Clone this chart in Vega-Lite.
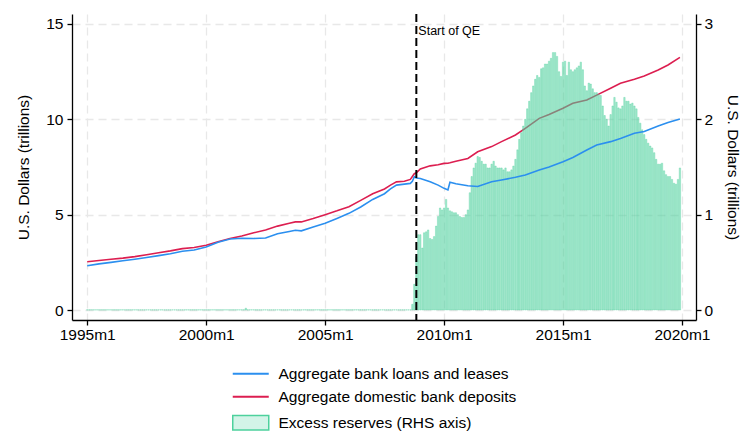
{
  "$schema": "https://vega.github.io/schema/vega-lite/v6.json",
  "width": 624,
  "height": 306,
  "autosize": {"type": "none"},
  "padding": {"left": 72, "top": 14, "right": 56, "bottom": 115},
  "background": "white",
  "config": {
    "font": "Liberation Sans",
    "view": {"stroke": null},
    "axis": {
      "domainColor": "black", "domainWidth": 1.3, "tickColor": "black", "tickWidth": 1.3, "tickSize": 5,
      "labelFont": "Liberation Sans", "labelFontSize": 15.5, "labelColor": "black",
      "titleFont": "Liberation Sans", "titleFontSize": 15.5, "titleFontWeight": "normal", "titleColor": "black",
      "gridColor": "#e8e8e8", "gridDash": [8, 5], "gridWidth": 1.3
    },
    "legend": {
      "title": null, "orient": "none", "legendX": 171, "legendY": 352, "direction": "vertical",
      "labelFont": "Liberation Sans", "labelFontSize": 15.5, "labelColor": "black", "labelLimit": 500,
      "symbolSize": 324, "labelOffset": 20, "rowPadding": 6
    }
  },
  "datasets": {
    "lines": [
      {"date": "1995-01-01", "loans": 2.32, "deposits": 2.53},
      {"date": "1995-07-01", "loans": 2.42, "deposits": 2.60},
      {"date": "1996-01-01", "loans": 2.50, "deposits": 2.66},
      {"date": "1996-07-01", "loans": 2.58, "deposits": 2.72},
      {"date": "1997-01-01", "loans": 2.66, "deposits": 2.80},
      {"date": "1997-07-01", "loans": 2.75, "deposits": 2.90},
      {"date": "1998-01-01", "loans": 2.85, "deposits": 3.00},
      {"date": "1998-07-01", "loans": 2.95, "deposits": 3.10},
      {"date": "1999-01-01", "loans": 3.08, "deposits": 3.22},
      {"date": "1999-07-01", "loans": 3.15, "deposits": 3.28},
      {"date": "2000-01-01", "loans": 3.30, "deposits": 3.40},
      {"date": "2000-07-01", "loans": 3.55, "deposits": 3.58},
      {"date": "2001-01-01", "loans": 3.72, "deposits": 3.75},
      {"date": "2001-07-01", "loans": 3.76, "deposits": 3.88},
      {"date": "2002-01-01", "loans": 3.75, "deposits": 4.05},
      {"date": "2002-07-01", "loans": 3.78, "deposits": 4.20},
      {"date": "2003-01-01", "loans": 4.00, "deposits": 4.40},
      {"date": "2003-07-01", "loans": 4.12, "deposits": 4.55},
      {"date": "2003-10-01", "loans": 4.18, "deposits": 4.62},
      {"date": "2004-01-01", "loans": 4.15, "deposits": 4.62},
      {"date": "2004-07-01", "loans": 4.35, "deposits": 4.80},
      {"date": "2005-01-01", "loans": 4.55, "deposits": 5.00},
      {"date": "2005-07-01", "loans": 4.80, "deposits": 5.20},
      {"date": "2006-01-01", "loans": 5.07, "deposits": 5.42},
      {"date": "2006-07-01", "loans": 5.40, "deposits": 5.75},
      {"date": "2007-01-01", "loans": 5.80, "deposits": 6.10},
      {"date": "2007-07-01", "loans": 6.10, "deposits": 6.35},
      {"date": "2007-10-01", "loans": 6.35, "deposits": 6.55},
      {"date": "2008-01-01", "loans": 6.55, "deposits": 6.72},
      {"date": "2008-05-01", "loans": 6.60, "deposits": 6.75},
      {"date": "2008-08-01", "loans": 6.64, "deposits": 6.85},
      {"date": "2008-09-01", "loans": 6.75, "deposits": 7.00},
      {"date": "2008-10-01", "loans": 6.99, "deposits": 7.15},
      {"date": "2008-11-01", "loans": 6.92, "deposits": 7.20},
      {"date": "2009-01-01", "loans": 6.90, "deposits": 7.40},
      {"date": "2009-06-01", "loans": 6.73, "deposits": 7.56},
      {"date": "2009-10-01", "loans": 6.55, "deposits": 7.62},
      {"date": "2010-01-01", "loans": 6.38, "deposits": 7.69},
      {"date": "2010-03-01", "loans": 6.30, "deposits": 7.70},
      {"date": "2010-04-01", "loans": 6.70, "deposits": 7.72},
      {"date": "2010-07-01", "loans": 6.62, "deposits": 7.80},
      {"date": "2011-01-01", "loans": 6.52, "deposits": 7.95},
      {"date": "2011-06-01", "loans": 6.48, "deposits": 8.30},
      {"date": "2012-01-01", "loans": 6.73, "deposits": 8.57},
      {"date": "2012-06-01", "loans": 6.82, "deposits": 8.83},
      {"date": "2013-01-01", "loans": 6.96, "deposits": 9.18},
      {"date": "2013-06-01", "loans": 7.08, "deposits": 9.53},
      {"date": "2014-01-01", "loans": 7.34, "deposits": 10.05},
      {"date": "2014-06-01", "loans": 7.50, "deposits": 10.25},
      {"date": "2015-01-01", "loans": 7.78, "deposits": 10.58},
      {"date": "2015-06-01", "loans": 8.00, "deposits": 10.84},
      {"date": "2016-01-01", "loans": 8.39, "deposits": 11.01},
      {"date": "2016-06-01", "loans": 8.65, "deposits": 11.27},
      {"date": "2017-01-01", "loans": 8.83, "deposits": 11.63},
      {"date": "2017-06-01", "loans": 9.00, "deposits": 11.89},
      {"date": "2018-01-01", "loans": 9.27, "deposits": 12.10},
      {"date": "2018-06-01", "loans": 9.36, "deposits": 12.27},
      {"date": "2019-01-01", "loans": 9.65, "deposits": 12.59},
      {"date": "2019-06-01", "loans": 9.83, "deposits": 12.85},
      {"date": "2019-12-01", "loans": 10.02, "deposits": 13.25}
    ],
    "reserves": [
      {"date": "1995-01-01", "r": 0.0015}, {"date": "1995-02-01", "r": 0.0015}, {"date": "1995-03-01", "r": 0.0015}, {"date": "1995-04-01", "r": 0.0015}, {"date": "1995-05-01", "r": 0.0015}, {"date": "1995-06-01", "r": 0.0015}, {"date": "1995-07-01", "r": 0.0015}, {"date": "1995-08-01", "r": 0.0015}, {"date": "1995-09-01", "r": 0.0015}, {"date": "1995-10-01", "r": 0.0015}, {"date": "1995-11-01", "r": 0.0015}, {"date": "1995-12-01", "r": 0.0015},
      {"date": "1996-01-01", "r": 0.0015}, {"date": "1996-02-01", "r": 0.0015}, {"date": "1996-03-01", "r": 0.0015}, {"date": "1996-04-01", "r": 0.0015}, {"date": "1996-05-01", "r": 0.0015}, {"date": "1996-06-01", "r": 0.0015}, {"date": "1996-07-01", "r": 0.0015}, {"date": "1996-08-01", "r": 0.0015}, {"date": "1996-09-01", "r": 0.0015}, {"date": "1996-10-01", "r": 0.0015}, {"date": "1996-11-01", "r": 0.0015}, {"date": "1996-12-01", "r": 0.0015},
      {"date": "1997-01-01", "r": 0.0015}, {"date": "1997-02-01", "r": 0.0015}, {"date": "1997-03-01", "r": 0.0015}, {"date": "1997-04-01", "r": 0.0015}, {"date": "1997-05-01", "r": 0.0015}, {"date": "1997-06-01", "r": 0.0015}, {"date": "1997-07-01", "r": 0.0015}, {"date": "1997-08-01", "r": 0.0015}, {"date": "1997-09-01", "r": 0.0015}, {"date": "1997-10-01", "r": 0.0015}, {"date": "1997-11-01", "r": 0.0015}, {"date": "1997-12-01", "r": 0.0015},
      {"date": "1998-01-01", "r": 0.0015}, {"date": "1998-02-01", "r": 0.0015}, {"date": "1998-03-01", "r": 0.0015}, {"date": "1998-04-01", "r": 0.0015}, {"date": "1998-05-01", "r": 0.0015}, {"date": "1998-06-01", "r": 0.0015}, {"date": "1998-07-01", "r": 0.0015}, {"date": "1998-08-01", "r": 0.0015}, {"date": "1998-09-01", "r": 0.0015}, {"date": "1998-10-01", "r": 0.0015}, {"date": "1998-11-01", "r": 0.0015}, {"date": "1998-12-01", "r": 0.0015},
      {"date": "1999-01-01", "r": 0.0015}, {"date": "1999-02-01", "r": 0.0015}, {"date": "1999-03-01", "r": 0.0015}, {"date": "1999-04-01", "r": 0.0015}, {"date": "1999-05-01", "r": 0.0015}, {"date": "1999-06-01", "r": 0.0015}, {"date": "1999-07-01", "r": 0.0015}, {"date": "1999-08-01", "r": 0.0015}, {"date": "1999-09-01", "r": 0.0015}, {"date": "1999-10-01", "r": 0.0015}, {"date": "1999-11-01", "r": 0.0015}, {"date": "1999-12-01", "r": 0.0015},
      {"date": "2000-01-01", "r": 0.0015}, {"date": "2000-02-01", "r": 0.0015}, {"date": "2000-03-01", "r": 0.0015}, {"date": "2000-04-01", "r": 0.0015}, {"date": "2000-05-01", "r": 0.0015}, {"date": "2000-06-01", "r": 0.0015}, {"date": "2000-07-01", "r": 0.0015}, {"date": "2000-08-01", "r": 0.0015}, {"date": "2000-09-01", "r": 0.0015}, {"date": "2000-10-01", "r": 0.0015}, {"date": "2000-11-01", "r": 0.0015}, {"date": "2000-12-01", "r": 0.0015},
      {"date": "2001-01-01", "r": 0.0015}, {"date": "2001-02-01", "r": 0.0015}, {"date": "2001-03-01", "r": 0.0015}, {"date": "2001-04-01", "r": 0.0015}, {"date": "2001-05-01", "r": 0.0015}, {"date": "2001-06-01", "r": 0.0015}, {"date": "2001-07-01", "r": 0.0015}, {"date": "2001-08-01", "r": 0.0015}, {"date": "2001-09-01", "r": 0.019}, {"date": "2001-10-01", "r": 0.0015}, {"date": "2001-11-01", "r": 0.0015}, {"date": "2001-12-01", "r": 0.0015},
      {"date": "2002-01-01", "r": 0.0015}, {"date": "2002-02-01", "r": 0.0015}, {"date": "2002-03-01", "r": 0.0015}, {"date": "2002-04-01", "r": 0.0015}, {"date": "2002-05-01", "r": 0.0015}, {"date": "2002-06-01", "r": 0.0015}, {"date": "2002-07-01", "r": 0.0015}, {"date": "2002-08-01", "r": 0.0015}, {"date": "2002-09-01", "r": 0.0015}, {"date": "2002-10-01", "r": 0.0015}, {"date": "2002-11-01", "r": 0.0015}, {"date": "2002-12-01", "r": 0.0015},
      {"date": "2003-01-01", "r": 0.0015}, {"date": "2003-02-01", "r": 0.0015}, {"date": "2003-03-01", "r": 0.0015}, {"date": "2003-04-01", "r": 0.0015}, {"date": "2003-05-01", "r": 0.0015}, {"date": "2003-06-01", "r": 0.0015}, {"date": "2003-07-01", "r": 0.0015}, {"date": "2003-08-01", "r": 0.0015}, {"date": "2003-09-01", "r": 0.0015}, {"date": "2003-10-01", "r": 0.0015}, {"date": "2003-11-01", "r": 0.0015}, {"date": "2003-12-01", "r": 0.0015},
      {"date": "2004-01-01", "r": 0.0015}, {"date": "2004-02-01", "r": 0.0015}, {"date": "2004-03-01", "r": 0.0015}, {"date": "2004-04-01", "r": 0.0015}, {"date": "2004-05-01", "r": 0.0015}, {"date": "2004-06-01", "r": 0.0015}, {"date": "2004-07-01", "r": 0.0015}, {"date": "2004-08-01", "r": 0.0015}, {"date": "2004-09-01", "r": 0.0015}, {"date": "2004-10-01", "r": 0.0015}, {"date": "2004-11-01", "r": 0.0015}, {"date": "2004-12-01", "r": 0.0015},
      {"date": "2005-01-01", "r": 0.0015}, {"date": "2005-02-01", "r": 0.0015}, {"date": "2005-03-01", "r": 0.0015}, {"date": "2005-04-01", "r": 0.0015}, {"date": "2005-05-01", "r": 0.0015}, {"date": "2005-06-01", "r": 0.0015}, {"date": "2005-07-01", "r": 0.0015}, {"date": "2005-08-01", "r": 0.0015}, {"date": "2005-09-01", "r": 0.0015}, {"date": "2005-10-01", "r": 0.0015}, {"date": "2005-11-01", "r": 0.0015}, {"date": "2005-12-01", "r": 0.0015},
      {"date": "2006-01-01", "r": 0.0015}, {"date": "2006-02-01", "r": 0.0015}, {"date": "2006-03-01", "r": 0.0015}, {"date": "2006-04-01", "r": 0.0015}, {"date": "2006-05-01", "r": 0.0015}, {"date": "2006-06-01", "r": 0.0015}, {"date": "2006-07-01", "r": 0.0015}, {"date": "2006-08-01", "r": 0.0015}, {"date": "2006-09-01", "r": 0.0015}, {"date": "2006-10-01", "r": 0.0015}, {"date": "2006-11-01", "r": 0.0015}, {"date": "2006-12-01", "r": 0.0015},
      {"date": "2007-01-01", "r": 0.0015}, {"date": "2007-02-01", "r": 0.0015}, {"date": "2007-03-01", "r": 0.0015}, {"date": "2007-04-01", "r": 0.0015}, {"date": "2007-05-01", "r": 0.0015}, {"date": "2007-06-01", "r": 0.0015}, {"date": "2007-07-01", "r": 0.0015}, {"date": "2007-08-01", "r": 0.0015}, {"date": "2007-09-01", "r": 0.0015}, {"date": "2007-10-01", "r": 0.0015}, {"date": "2007-11-01", "r": 0.0015}, {"date": "2007-12-01", "r": 0.0015},
      {"date": "2008-01-01", "r": 0.0015}, {"date": "2008-02-01", "r": 0.0015}, {"date": "2008-03-01", "r": 0.0015}, {"date": "2008-04-01", "r": 0.0015}, {"date": "2008-05-01", "r": 0.0015}, {"date": "2008-06-01", "r": 0.0015}, {"date": "2008-07-01", "r": 0.0015}, {"date": "2008-08-01", "r": 0.0015},
      {"date": "2008-09-01", "r": 0.06}, {"date": "2008-10-01", "r": 0.27}, {"date": "2008-11-01", "r": 0.56}, {"date": "2008-12-01", "r": 0.79},
      {"date": "2009-01-01", "r": 0.79}, {"date": "2009-02-01", "r": 0.65}, {"date": "2009-03-01", "r": 0.81}, {"date": "2009-04-01", "r": 0.82}, {"date": "2009-05-01", "r": 0.84}, {"date": "2009-06-01", "r": 0.75}, {"date": "2009-07-01", "r": 0.74}, {"date": "2009-08-01", "r": 0.77}, {"date": "2009-09-01", "r": 0.88}, {"date": "2009-10-01", "r": 0.98}, {"date": "2009-11-01", "r": 1.07}, {"date": "2009-12-01", "r": 1.05},
      {"date": "2010-01-01", "r": 1.07}, {"date": "2010-02-01", "r": 1.16}, {"date": "2010-03-01", "r": 1.07}, {"date": "2010-04-01", "r": 1.04}, {"date": "2010-05-01", "r": 1.03}, {"date": "2010-06-01", "r": 1.02}, {"date": "2010-07-01", "r": 1.02}, {"date": "2010-08-01", "r": 1.00}, {"date": "2010-09-01", "r": 0.98}, {"date": "2010-10-01", "r": 0.97}, {"date": "2010-11-01", "r": 0.97}, {"date": "2010-12-01", "r": 1.00},
      {"date": "2011-01-01", "r": 1.05}, {"date": "2011-02-01", "r": 1.23}, {"date": "2011-03-01", "r": 1.40}, {"date": "2011-04-01", "r": 1.49}, {"date": "2011-05-01", "r": 1.54}, {"date": "2011-06-01", "r": 1.61}, {"date": "2011-07-01", "r": 1.60}, {"date": "2011-08-01", "r": 1.56}, {"date": "2011-09-01", "r": 1.53}, {"date": "2011-10-01", "r": 1.53}, {"date": "2011-11-01", "r": 1.49}, {"date": "2011-12-01", "r": 1.49},
      {"date": "2012-01-01", "r": 1.53}, {"date": "2012-02-01", "r": 1.56}, {"date": "2012-03-01", "r": 1.51}, {"date": "2012-04-01", "r": 1.49}, {"date": "2012-05-01", "r": 1.49}, {"date": "2012-06-01", "r": 1.49}, {"date": "2012-07-01", "r": 1.47}, {"date": "2012-08-01", "r": 1.49}, {"date": "2012-09-01", "r": 1.45}, {"date": "2012-10-01", "r": 1.45}, {"date": "2012-11-01", "r": 1.47}, {"date": "2012-12-01", "r": 1.51},
      {"date": "2013-01-01", "r": 1.58}, {"date": "2013-02-01", "r": 1.68}, {"date": "2013-03-01", "r": 1.79}, {"date": "2013-04-01", "r": 1.86}, {"date": "2013-05-01", "r": 1.93}, {"date": "2013-06-01", "r": 2.00}, {"date": "2013-07-01", "r": 2.11}, {"date": "2013-08-01", "r": 2.19}, {"date": "2013-09-01", "r": 2.28}, {"date": "2013-10-01", "r": 2.35}, {"date": "2013-11-01", "r": 2.42}, {"date": "2013-12-01", "r": 2.46},
      {"date": "2014-01-01", "r": 2.44}, {"date": "2014-02-01", "r": 2.53}, {"date": "2014-03-01", "r": 2.54}, {"date": "2014-04-01", "r": 2.58}, {"date": "2014-05-01", "r": 2.58}, {"date": "2014-06-01", "r": 2.61}, {"date": "2014-07-01", "r": 2.64}, {"date": "2014-08-01", "r": 2.70}, {"date": "2014-09-01", "r": 2.70}, {"date": "2014-10-01", "r": 2.66}, {"date": "2014-11-01", "r": 2.50}, {"date": "2014-12-01", "r": 2.45},
      {"date": "2015-01-01", "r": 2.60}, {"date": "2015-02-01", "r": 2.61}, {"date": "2015-03-01", "r": 2.46}, {"date": "2015-04-01", "r": 2.60}, {"date": "2015-05-01", "r": 2.52}, {"date": "2015-06-01", "r": 2.50}, {"date": "2015-07-01", "r": 2.52}, {"date": "2015-08-01", "r": 2.54}, {"date": "2015-09-01", "r": 2.56}, {"date": "2015-10-01", "r": 2.60}, {"date": "2015-11-01", "r": 2.52}, {"date": "2015-12-01", "r": 2.35},
      {"date": "2016-01-01", "r": 2.30}, {"date": "2016-02-01", "r": 2.38}, {"date": "2016-03-01", "r": 2.37}, {"date": "2016-04-01", "r": 2.32}, {"date": "2016-05-01", "r": 2.28}, {"date": "2016-06-01", "r": 2.28}, {"date": "2016-07-01", "r": 2.26}, {"date": "2016-08-01", "r": 2.25}, {"date": "2016-09-01", "r": 2.14}, {"date": "2016-10-01", "r": 2.04}, {"date": "2016-11-01", "r": 2.00}, {"date": "2016-12-01", "r": 1.93},
      {"date": "2017-01-01", "r": 2.05}, {"date": "2017-02-01", "r": 2.14}, {"date": "2017-03-01", "r": 2.23}, {"date": "2017-04-01", "r": 2.18}, {"date": "2017-05-01", "r": 2.12}, {"date": "2017-06-01", "r": 2.11}, {"date": "2017-07-01", "r": 2.14}, {"date": "2017-08-01", "r": 2.23}, {"date": "2017-09-01", "r": 2.19}, {"date": "2017-10-01", "r": 2.19}, {"date": "2017-11-01", "r": 2.16}, {"date": "2017-12-01", "r": 2.17},
      {"date": "2018-01-01", "r": 2.14}, {"date": "2018-02-01", "r": 2.11}, {"date": "2018-03-01", "r": 2.02}, {"date": "2018-04-01", "r": 1.96}, {"date": "2018-05-01", "r": 1.89}, {"date": "2018-06-01", "r": 1.84}, {"date": "2018-07-01", "r": 1.79}, {"date": "2018-08-01", "r": 1.75}, {"date": "2018-09-01", "r": 1.72}, {"date": "2018-10-01", "r": 1.70}, {"date": "2018-11-01", "r": 1.65}, {"date": "2018-12-01", "r": 1.58},
      {"date": "2019-01-01", "r": 1.53}, {"date": "2019-02-01", "r": 1.53}, {"date": "2019-03-01", "r": 1.54}, {"date": "2019-04-01", "r": 1.46}, {"date": "2019-05-01", "r": 1.42}, {"date": "2019-06-01", "r": 1.40}, {"date": "2019-07-01", "r": 1.40}, {"date": "2019-08-01", "r": 1.37}, {"date": "2019-09-01", "r": 1.33}, {"date": "2019-10-01", "r": 1.32}, {"date": "2019-11-01", "r": 1.37}, {"date": "2019-12-01", "r": 1.49}
    ],
    "events": [{"date": "2008-11-01", "label": "Start of QE"}]
  },
  "encoding": {
    "x": {
      "field": "date", "type": "temporal",
      "scale": {"type": "utc", "domain": [{"year": 1994, "month": 7, "date": 28, "utc": true}, {"year": 2020, "month": 5, "date": 19, "utc": true}]},
      "axis": {
        "title": null, "grid": true, "labelPadding": 2, "labelFlush": false, "labelOverlap": false,
        "values": [
          {"year": 1995, "month": 1, "date": 1, "utc": true},
          {"year": 2000, "month": 1, "date": 1, "utc": true},
          {"year": 2005, "month": 1, "date": 1, "utc": true},
          {"year": 2010, "month": 1, "date": 1, "utc": true},
          {"year": 2015, "month": 1, "date": 1, "utc": true},
          {"year": 2020, "month": 1, "date": 1, "utc": true}
        ],
        "labelExpr": "utcyear(datum.value) + 'm' + (utcmonth(datum.value) + 1)"
      }
    }
  },
  "layer": [
    {
      "data": {"name": "lines"},
      "mark": {"type": "line", "strokeWidth": 1.6},
      "encoding": {
        "y": {"field": "deposits", "type": "quantitative", "scale": {"domain": [-0.524, 15.524], "nice": false, "zero": false}, "axis": null},
        "color": {
          "datum": "Aggregate domestic bank deposits", "type": "nominal",
          "scale": {"domain": ["Aggregate bank loans and leases", "Aggregate domestic bank deposits", "Excess reserves (RHS axis)"], "range": ["#2b8fef", "#dc1e50", "#4dd19d"]},
          "legend": {
            "encode": {
              "symbols": {
                "update": {
                  "shape": {"signal": "datum.value == 'Excess reserves (RHS axis)' ? 'M-2,-0.8H2V0.8H-2Z' : 'M-2,0H2'"},
                  "fill": {"signal": "datum.value == 'Excess reserves (RHS axis)' ? '#d3f4e8' : 'transparent'"},
                  "stroke": {"signal": "datum.value == 'Excess reserves (RHS axis)' ? '#a5e6cf' : (datum.value == 'Aggregate bank loans and leases' ? '#2b8fef' : '#dc1e50')"},
                  "strokeWidth": {"signal": "datum.value == 'Excess reserves (RHS axis)' ? 1.5 : 2"},
                  "opacity": {"value": 1},
                  "fillOpacity": {"value": 1},
                  "strokeOpacity": {"value": 1}
                }
              }
            }
          }
        }
      }
    },
    {
      "data": {"name": "reserves"},
      "mark": {"type": "bar", "filled": false, "fill": "#4dd19d", "width": 1.4, "fillOpacity": 0.5, "strokeWidth": 0.7, "strokeOpacity": 0.5},
      "encoding": {
        "y": {
          "field": "r", "type": "quantitative",
          "scale": {"domain": [-0.1048, 3.1048], "nice": false, "zero": false},
          "axis": {"orient": "right", "values": [0, 1, 2, 3], "grid": false, "title": "U.S. Dollars (trillions)", "labelPadding": 3, "titlePadding": 12}
        },
        "color": {
          "datum": "Excess reserves (RHS axis)", "type": "nominal",
          "legend": {
            "encode": {
              "symbols": {
                "update": {
                  "shape": {"signal": "datum.value == 'Excess reserves (RHS axis)' ? 'M-2,-0.8H2V0.8H-2Z' : 'M-2,0H2'"},
                  "fill": {"signal": "datum.value == 'Excess reserves (RHS axis)' ? '#d3f4e8' : 'transparent'"},
                  "stroke": {"signal": "datum.value == 'Excess reserves (RHS axis)' ? '#a5e6cf' : (datum.value == 'Aggregate bank loans and leases' ? '#2b8fef' : '#dc1e50')"},
                  "strokeWidth": {"signal": "datum.value == 'Excess reserves (RHS axis)' ? 1.5 : 2"},
                  "opacity": {"value": 1},
                  "fillOpacity": {"value": 1},
                  "strokeOpacity": {"value": 1}
                }
              }
            }
          }
        }
      }
    },
    {
      "data": {"name": "lines"},
      "mark": {"type": "line", "strokeWidth": 1.6},
      "encoding": {
        "y": {
          "field": "loans", "type": "quantitative",
          "scale": {"domain": [-0.524, 15.524], "nice": false, "zero": false},
          "axis": {"orient": "left", "values": [0, 5, 10, 15], "grid": true, "title": "U.S. Dollars (trillions)", "labelPadding": 4, "titlePadding": 14}
        },
        "color": {
          "datum": "Aggregate bank loans and leases", "type": "nominal",
          "legend": {
            "encode": {
              "symbols": {
                "update": {
                  "shape": {"signal": "datum.value == 'Excess reserves (RHS axis)' ? 'M-2,-0.8H2V0.8H-2Z' : 'M-2,0H2'"},
                  "fill": {"signal": "datum.value == 'Excess reserves (RHS axis)' ? '#d3f4e8' : 'transparent'"},
                  "stroke": {"signal": "datum.value == 'Excess reserves (RHS axis)' ? '#a5e6cf' : (datum.value == 'Aggregate bank loans and leases' ? '#2b8fef' : '#dc1e50')"},
                  "strokeWidth": {"signal": "datum.value == 'Excess reserves (RHS axis)' ? 1.5 : 2"},
                  "opacity": {"value": 1},
                  "fillOpacity": {"value": 1},
                  "strokeOpacity": {"value": 1}
                }
              }
            }
          }
        }
      }
    },
    {
      "data": {"name": "events"},
      "mark": {"type": "rule", "strokeDash": [8, 4], "strokeWidth": 2, "color": "black"},
      "encoding": {}
    },
    {
      "data": {"name": "events"},
      "mark": {"type": "text", "align": "left", "baseline": "middle", "dx": 2, "fontSize": 12.5, "color": "black", "font": "Liberation Sans"},
      "encoding": {
        "y": {"datum": 14.65, "type": "quantitative", "scale": {"domain": [-0.524, 15.524], "nice": false, "zero": false}, "axis": null},
        "text": {"field": "label"}
      }
    }
  ],
  "resolve": {"scale": {"y": "independent", "color": "shared"}, "axis": {"y": "independent"}}
}
